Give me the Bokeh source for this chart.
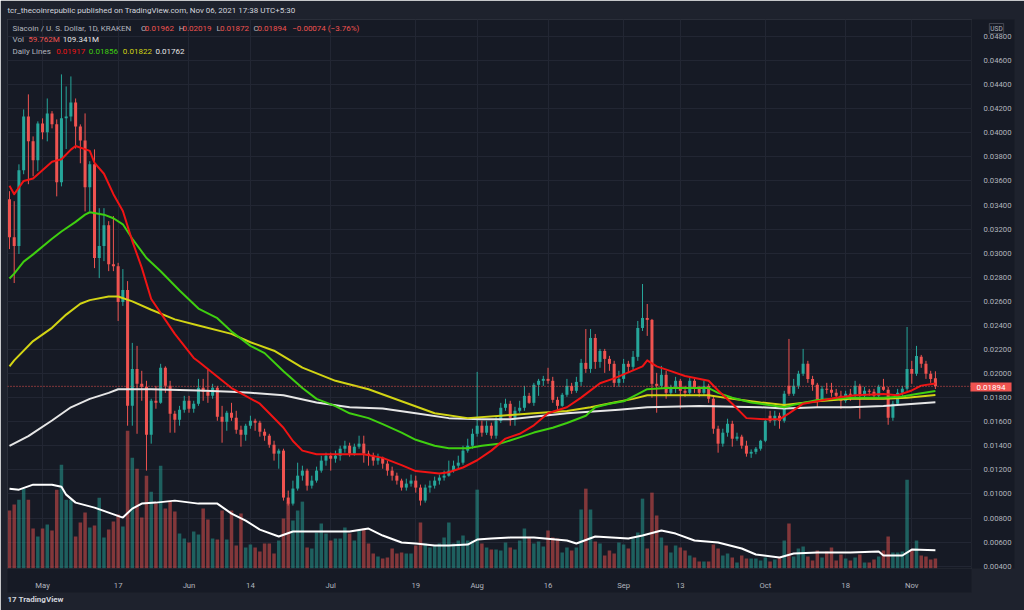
import numpy as np
from bokeh.plotting import figure
from bokeh.models import (Range1d, FixedTicker, Span, Label, ColumnDataSource,
                          PrintfTickFormatter)
from bokeh.embed import file_html
from bokeh.resources import INLINE

# ---------------- data (Siacoin / USD, 1D, 2021-04-24 .. 2021-11-06) ----------------
day = list(range(197))
open_ = [0.03448,0.03133,0.03059,0.03689,0.04136,0.03929,0.03772,0.04078,0.04004,0.04161,
 0.04070,0.03589,0.04120,0.04136,0.04252,0.04053,0.03937,0.03548,0.03738,0.02959,
 0.03059,0.03233,0.02909,0.02892,0.02594,0.02694,0.01732,0.02039,0.01915,0.01890,
 0.01492,0.01774,0.01757,0.02048,0.01898,0.01666,0.01617,0.01700,0.01774,0.01708,
 0.01749,0.01882,0.01849,0.01815,0.01882,0.01641,0.01600,0.01675,0.01633,0.01534,
 0.01492,0.01567,0.01608,0.01592,0.01517,0.01484,0.01409,0.01335,0.01360,0.00970,
 0.00920,0.01045,0.01152,0.01194,0.01069,0.01111,0.01194,0.01277,0.01318,0.01293,
 0.01318,0.01376,0.01401,0.01335,0.01393,0.01418,0.01335,0.01318,0.01277,0.01301,
 0.01252,0.01194,0.01152,0.01111,0.01053,0.01086,0.01111,0.01053,0.00945,0.01053,
 0.01069,0.01111,0.01136,0.01152,0.01194,0.01235,0.01260,0.01360,0.01401,0.01500,
 0.01567,0.01509,0.01567,0.01484,0.01608,0.01716,0.01749,0.01633,0.01691,0.01716,
 0.01815,0.01757,0.01907,0.01940,0.01956,0.01940,0.01782,0.01732,0.01824,0.01898,
 0.01857,0.01931,0.02089,0.02039,0.02296,0.02097,0.02188,0.02122,0.02081,0.01923,
 0.01956,0.02081,0.02056,0.02139,0.02379,0.02462,0.02446,0.01915,0.01898,0.01990,
 0.01840,0.01890,0.01940,0.01857,0.01840,0.01940,0.01873,0.01840,0.01898,0.01791,
 0.01542,0.01418,0.01509,0.01583,0.01459,0.01476,0.01401,0.01335,0.01350,0.01376,
 0.01442,0.01650,0.01608,0.01650,0.01608,0.01898,0.01832,0.01898,0.01998,0.02081,
 0.01956,0.01907,0.01782,0.01873,0.01865,0.01840,0.01815,0.01774,0.01832,0.01824,
 0.01898,0.01815,0.01857,0.01849,0.01815,0.01890,0.01865,0.01633,0.01749,0.01840,
 0.01873,0.02039,0.01998,0.02139,0.02081,0.01998,0.01962]
high = [0.03515,0.03432,0.03738,0.04194,0.04319,0.03970,0.04095,0.04120,0.04285,0.04180,
 0.04111,0.04485,0.04385,0.04468,0.04285,0.04070,0.04161,0.03764,0.03862,0.03374,
 0.03374,0.03266,0.03308,0.02920,0.02868,0.02768,0.02255,0.02230,0.02023,0.01940,
 0.01791,0.01898,0.02081,0.02060,0.01940,0.01691,0.01732,0.01815,0.01815,0.01774,
 0.01956,0.01956,0.02039,0.01915,0.01898,0.01732,0.01691,0.01757,0.01691,0.01567,
 0.01583,0.01650,0.01625,0.01608,0.01542,0.01500,0.01442,0.01376,0.01376,0.01028,
 0.01111,0.01260,0.01235,0.01210,0.01152,0.01227,0.01318,0.01343,0.01343,0.01360,
 0.01401,0.01442,0.01426,0.01418,0.01484,0.01484,0.01360,0.01343,0.01335,0.01310,
 0.01277,0.01227,0.01177,0.01127,0.01127,0.01161,0.01152,0.01078,0.01078,0.01111,
 0.01144,0.01161,0.01194,0.01277,0.01277,0.01318,0.01401,0.01459,0.01542,0.02014,
 0.01608,0.01608,0.01592,0.01641,0.01757,0.01791,0.01774,0.01724,0.01774,0.01898,
 0.01840,0.01923,0.01956,0.01981,0.02048,0.01973,0.01807,0.01840,0.01956,0.01923,
 0.01973,0.02122,0.02370,0.02370,0.02329,0.02205,0.02205,0.02147,0.02106,0.02023,
 0.02122,0.02106,0.02188,0.02437,0.02744,0.02578,0.02454,0.02006,0.02064,0.02023,
 0.01907,0.01973,0.01956,0.01898,0.01965,0.01956,0.01898,0.01940,0.01915,0.01815,
 0.01567,0.01542,0.01625,0.01608,0.01509,0.01492,0.01442,0.01370,0.01390,0.01450,
 0.01620,0.01691,0.01691,0.01675,0.01857,0.02288,0.01956,0.02023,0.02205,0.02106,
 0.01981,0.01923,0.01898,0.01923,0.01923,0.01873,0.01857,0.01857,0.01873,0.01940,
 0.01915,0.01890,0.01873,0.01873,0.01907,0.01956,0.01890,0.01774,0.01873,0.01898,
 0.02387,0.02106,0.02230,0.02155,0.02106,0.02023,0.02019]
low = [0.03034,0.02752,0.02993,0.03656,0.03573,0.03639,0.03681,0.03946,0.03929,0.04037,
 0.03472,0.03555,0.03865,0.04095,0.03869,0.03747,0.03347,0.03347,0.02876,0.02793,
 0.02934,0.02851,0.02851,0.02437,0.02562,0.01567,0.01567,0.01500,0.01774,0.01194,
 0.01418,0.01708,0.01749,0.01840,0.01509,0.01509,0.01567,0.01675,0.01675,0.01675,
 0.01732,0.01774,0.01757,0.01791,0.01608,0.01426,0.01525,0.01608,0.01500,0.01393,
 0.01442,0.01542,0.01525,0.01476,0.01442,0.01384,0.01277,0.01210,0.00945,0.00904,
 0.00904,0.01028,0.01111,0.01028,0.01045,0.01094,0.01177,0.01235,0.01194,0.01260,
 0.01277,0.01343,0.01310,0.01318,0.01376,0.01260,0.01235,0.01235,0.01243,0.01210,
 0.01152,0.01111,0.01078,0.01028,0.01028,0.01061,0.01011,0.00904,0.00928,0.01011,
 0.01045,0.01078,0.01111,0.01144,0.01177,0.01210,0.01243,0.01343,0.01376,0.01476,
 0.01476,0.01490,0.01459,0.01459,0.01590,0.01691,0.01567,0.01567,0.01675,0.01691,
 0.01749,0.01732,0.01815,0.01898,0.01915,0.01757,0.01691,0.01724,0.01807,0.01832,
 0.01840,0.01898,0.02006,0.02006,0.02039,0.02048,0.02006,0.02023,0.01890,0.01890,
 0.01923,0.02006,0.02023,0.02106,0.02354,0.02313,0.01799,0.01675,0.01873,0.01791,
 0.01815,0.01840,0.01708,0.01807,0.01824,0.01840,0.01807,0.01815,0.01757,0.01500,
 0.01343,0.01393,0.01476,0.01393,0.01442,0.01376,0.01310,0.01300,0.01330,0.01360,
 0.01430,0.01592,0.01567,0.01542,0.01592,0.01815,0.01815,0.01873,0.01981,0.01923,
 0.01857,0.01716,0.01774,0.01832,0.01807,0.01791,0.01708,0.01757,0.01774,0.01791,
 0.01625,0.01791,0.01815,0.01791,0.01791,0.01857,0.01575,0.01608,0.01732,0.01791,
 0.01857,0.01915,0.01981,0.02048,0.01956,0.01923,0.01872]
close = [0.03133,0.03059,0.03689,0.04136,0.03929,0.03772,0.04078,0.04004,0.04161,0.04070,
 0.03589,0.04120,0.04136,0.04252,0.04053,0.03937,0.03548,0.03738,0.02959,0.03059,
 0.03233,0.02909,0.02892,0.02594,0.02694,0.01732,0.02039,0.01915,0.01890,0.01492,
 0.01774,0.01757,0.02048,0.01898,0.01666,0.01617,0.01700,0.01774,0.01708,0.01749,
 0.01882,0.01849,0.01815,0.01882,0.01641,0.01600,0.01675,0.01633,0.01534,0.01492,
 0.01567,0.01608,0.01592,0.01517,0.01484,0.01409,0.01335,0.01360,0.00970,0.00920,
 0.01045,0.01152,0.01194,0.01069,0.01111,0.01194,0.01277,0.01318,0.01293,0.01318,
 0.01376,0.01401,0.01335,0.01393,0.01418,0.01335,0.01318,0.01277,0.01301,0.01252,
 0.01194,0.01152,0.01111,0.01053,0.01086,0.01111,0.01053,0.00945,0.01053,0.01069,
 0.01111,0.01136,0.01152,0.01194,0.01235,0.01260,0.01360,0.01401,0.01500,0.01567,
 0.01509,0.01567,0.01484,0.01608,0.01716,0.01749,0.01633,0.01691,0.01716,0.01815,
 0.01757,0.01907,0.01940,0.01956,0.01940,0.01782,0.01732,0.01824,0.01898,0.01857,
 0.01931,0.02089,0.02039,0.02296,0.02097,0.02188,0.02122,0.02081,0.01923,0.01956,
 0.02081,0.02056,0.02139,0.02379,0.02462,0.02446,0.01915,0.01898,0.01990,0.01840,
 0.01890,0.01940,0.01857,0.01840,0.01940,0.01873,0.01840,0.01898,0.01791,0.01542,
 0.01418,0.01509,0.01583,0.01459,0.01476,0.01401,0.01335,0.01350,0.01376,0.01442,
 0.01608,0.01608,0.01650,0.01608,0.01832,0.01832,0.01898,0.01998,0.02081,0.01956,
 0.01907,0.01782,0.01873,0.01865,0.01840,0.01815,0.01774,0.01832,0.01824,0.01898,
 0.01815,0.01857,0.01849,0.01815,0.01890,0.01865,0.01633,0.01749,0.01840,0.01873,
 0.02039,0.01998,0.02147,0.02081,0.01998,0.01956,0.01894]
volume_m = [348,384,414,480,414,240,192,240,264,228,474,624,414,414,192,276,336,246,258,426,
 186,234,282,324,252,828,666,600,306,558,462,390,618,360,402,342,210,180,156,222,
 204,360,294,180,174,348,174,348,138,330,126,144,126,102,150,150,90,168,300,396,
 288,348,402,126,120,216,270,210,168,180,180,246,210,168,228,240,150,90,72,60,
 66,120,90,96,90,90,138,276,150,126,138,150,186,276,150,168,198,168,168,474,
 150,126,114,114,108,156,126,114,168,240,186,150,162,132,228,186,180,96,126,108,
 126,354,480,354,162,150,78,108,90,156,144,120,180,216,420,120,456,318,186,138,
 96,138,126,108,78,66,42,42,42,144,120,78,90,66,36,78,60,60,60,48,
 66,42,54,66,168,270,72,120,132,72,48,108,66,102,126,48,84,60,48,66,
 84,36,36,54,72,108,192,96,96,102,534,108,168,78,72,54,59.762]

# "Daily Lines" moving averages (day index, price)
ma_red_day = [0,1,3,5,9,11,13,14,17,18,20,22,24,26,28,30,35,39,40,47,53,55,58,60,62,65,69,75,79,83,
              86,91,93,96,99,102,105,108,111,114,118,121,125,128,131,134,135,137,140,143,148,150,
              153,156,160,163,165,168,171,175,179,185,188,191,193,196]
ma_red = [0.0356,0.0349,0.0360,0.0362,0.0376,0.0378,0.0386,0.0389,0.0385,0.0375,0.0366,0.0349,0.0335,
          0.0310,0.0288,0.0262,0.0233,0.0213,0.0210,0.0188,0.0175,0.0167,0.0155,0.0144,0.0136,0.0133,
          0.0133,0.0133,0.0130,0.0124,0.0119,0.0117,0.0118,0.0122,0.0128,0.0136,0.0146,0.0150,0.0157,
          0.0167,0.0172,0.0180,0.0192,0.0196,0.0201,0.0206,0.0211,0.0206,0.0202,0.0198,0.0194,0.0186,
          0.0175,0.0163,0.0162,0.0162,0.0167,0.0175,0.0177,0.0180,0.0182,0.0183,0.0182,0.0186,0.0190,
          0.01917]
ma_green_day = [0,1,3,5,9,11,14,16,17,20,22,24,26,29,32,36,40,44,47,51,54,58,62,65,69,72,76,79,83,86,
                90,93,97,100,104,108,111,115,118,122,124,127,130,133,135,139,144,148,150,153,157,159,
                164,166,171,178,185,189,192,196]
ma_green = [0.0279,0.0283,0.0293,0.0299,0.0312,0.0318,0.0326,0.0332,0.0334,0.0332,0.0329,0.0324,0.0312,
            0.0296,0.0285,0.0269,0.0254,0.0246,0.0235,0.0223,0.0217,0.0202,0.0188,0.0179,0.0173,0.0167,
            0.0163,0.0158,0.0151,0.0145,0.0140,0.0138,0.0138,0.0140,0.0142,0.0147,0.0151,0.0155,0.0159,
            0.0165,0.0172,0.0175,0.0177,0.0183,0.0187,0.0188,0.0188,0.0188,0.0184,0.0180,0.0176,0.0175,
            0.0172,0.0174,0.0178,0.0180,0.0180,0.0181,0.0183,0.01856]
ma_yellow_day = [0,1,5,9,12,15,17,21,23,26,30,35,40,47,51,56,62,69,76,83,90,97,104,111,118,123,128,132,
                 135,143,148,153,159,164,171,178,185,190,196]
ma_yellow = [0.0206,0.0211,0.0227,0.0238,0.0249,0.0258,0.0261,0.0264,0.0264,0.0260,0.0253,0.0245,0.0240,
             0.0233,0.0226,0.0219,0.0205,0.0194,0.0187,0.0177,0.0167,0.0163,0.0165,0.0167,0.0169,0.0172,
             0.0176,0.0179,0.0182,0.0182,0.0182,0.0179,0.0176,0.0174,0.0177,0.0179,0.0179,0.0180,0.01822]
ma_white_day = [0,4,9,13,17,21,23,30,40,47,51,58,65,72,79,86,93,100,106,118,129,135,146,159,164,171,178,185,196]
ma_white = [0.0140,0.0148,0.0161,0.0172,0.0179,0.0184,0.0187,0.0187,0.0186,0.0185,0.0184,0.0182,0.0176,
            0.0172,0.0171,0.0167,0.0163,0.0162,0.0162,0.0167,0.0170,0.0172,0.0173,0.0172,0.0171,0.0172,
            0.0172,0.0173,0.01762]
# volume moving average (millions)
vol_ma_day = [0,2,5,9,11,12,14,18,21,24,26,28,31,35,40,44,47,50,53,57,60,65,72,76,79,83,86,90,93,97,99,
              102,106,111,118,120,124,131,134,138,141,145,150,155,158,163,166,171,178,184,185,189,191,196]
vol_ma = [480,474,504,504,492,444,396,366,336,306,360,390,396,408,390,390,330,288,234,192,222,222,222,
          240,198,156,150,138,138,144,174,180,186,186,168,150,192,180,198,228,210,168,156,120,84,66,90,
          96,96,102,78,78,114,109.341]

tick_days = [7, 23, 38, 51, 68, 86, 99, 114, 130, 142, 160, 177, 191]
tick_labels = ["May", "17", "Jun", "14", "Jul", "19", "Aug", "16", "Sep", "13", "Oct", "18", "Nov"]
price_ticks = [round(0.004 + 0.002 * k, 3) for k in range(23)]
last_price = 0.01894

# ---------------- styling ----------------
UP, DOWN = "#26a69a", "#ef5350"
BG, OUTER, GRID, TXT = "#161a25", "#1e222d", "#222633", "#b2b5be"
FONT = "Roboto"

p = figure(width=1024, height=610, output_backend="svg", toolbar_location=None,
           x_range=Range1d(-0.42, 203.64), y_range=Range1d(0.00381, 0.04941),
           min_border_left=7, min_border_right=53, min_border_top=18, min_border_bottom=42,
           background_fill_color=BG, border_fill_color=OUTER, y_axis_location="right")
p.extra_y_ranges = {"vol": Range1d(0, 3300)}
p.outline_line_color = "#2a2e39"

up = [c >= o for o, c in zip(open_, close)]
cols = [UP if u else DOWN for u in up]
src = ColumnDataSource(dict(day=day, o=open_, h=high, l=low, c=close,
                            top=[max(a, b) for a, b in zip(open_, close)],
                            bot=[min(a, b) for a, b in zip(open_, close)],
                            vol=volume_m, col=cols))

# volume
p.vbar(x="day", top="vol", bottom=0, width=0.74, fill_color="col", fill_alpha=0.5,
       line_color=None, source=src, y_range_name="vol")
p.line(vol_ma_day, vol_ma, line_color="#ffffff", line_width=2, y_range_name="vol")

# last price dotted line
p.add_layout(Span(location=last_price, dimension="width", line_color=DOWN,
                  line_dash="1 2", line_width=1))

# candles
p.segment(x0="day", y0="h", x1="day", y1="l", line_color="col", line_width=1, source=src)
p.vbar(x="day", top="top", bottom="bot", width=0.64, fill_color="col", line_color=None, source=src)

# moving averages
for d, v, c in [(ma_white_day, ma_white, "#e6e6e6"), (ma_yellow_day, ma_yellow, "#d2d414"),
                (ma_green_day, ma_green, "#3fcf10"), (ma_red_day, ma_red, "#f01414")]:
    p.line(d, v, line_color=c, line_width=2, line_join="round")

# axes
p.xaxis.ticker = FixedTicker(ticks=tick_days)
p.xaxis.major_label_overrides = {d: t for d, t in zip(tick_days, tick_labels)}
p.yaxis.ticker = FixedTicker(ticks=price_ticks)
p.yaxis.formatter = PrintfTickFormatter(format="%.5f")
for ax in (p.xaxis[0], p.yaxis[0]):
    ax.axis_line_color = None
    ax.major_tick_line_color = None
    ax.minor_tick_line_color = None
    ax.major_label_text_color = TXT
    ax.major_label_text_font = FONT
    ax.major_label_text_font_size = "7.7px"
    try:
        ax.background_fill_color = BG
    except Exception:
        pass
p.xaxis.major_label_standoff = 6
p.yaxis.major_label_standoff = 6
p.xgrid.ticker = FixedTicker(ticks=tick_days)
p.ygrid.ticker = FixedTicker(ticks=price_ticks)
p.grid.grid_line_color = GRID


def lab(x, y, text, color, size="8px", bold=False, align="left", bg=None, border=None,
        place=None, pad=None):
    kw = dict(text=text, text_color=color, text_font=FONT, text_font_size=size,
              text_align=align, text_baseline="middle",
              text_font_style="bold" if bold else "normal")
    if bg is not None:
        kw["background_fill_color"] = bg
    if border is not None:
        kw["border_line_color"] = border
    try:
        l = Label(x=x, y=y, x_units="canvas", y_units="canvas", **kw,
                  **({} if pad is None else {"padding": pad}))
    except Exception:
        l = Label(x=x, y=y, x_units="canvas", y_units="canvas", **kw)
    if place is None:
        p.add_layout(l)
    else:
        p.add_layout(l, place)
    return l


# texts outside the chart pane (side panels, so that they are not clipped)
lab(7, 10, "tcr_thecoinrepublic published on TradingView.com, Nov 06, 2021 17:38 UTC+5:30", "#d1d4dc",
    place="above")
lab(996, 28, "USD", TXT, size="6.5px", align="center", bg=BG, border="#434651", place="above", pad=1)
lab(990.5, 386.5, "0.01894", "#ffffff", size="8px", align="center", bg=DOWN, place="below", pad=(6, 2))
lab(7, 598.5, "17 TradingView", "#d1d4dc", size="8px", bold=True, place="below")

# legend texts inside the chart pane
lab(12, 28, "Siacoin / U. S. Dollar, 1D, KRAKEN", TXT)
for x, t, c in [(140.5, "O", TXT), (144.3, "0.01962", DOWN), (178.3, "H", TXT), (182, "0.02019", DOWN),
                (216, "L", TXT), (219.5, "0.01872", DOWN), (253, "C", TXT), (257, "0.01894", DOWN),
                (291.7, "\u22120.00074 (\u22123.76%)", DOWN)]:
    lab(x, 28, t, c)
lab(12, 39, "Vol", TXT)
lab(27.7, 39, "59.762M", DOWN)
lab(62.3, 39, "109.341M", "#e6e6e6")
lab(12, 51, "Daily Lines", TXT)
lab(55.7, 51, "0.01917", "#f01414")
lab(88.3, 51, "0.01856", "#3fcf10")
lab(122.3, 51, "0.01822", "#d2d414")
lab(155, 51, "0.01762", "#e6e6e6")

open("out.html", "w").write(file_html(p, INLINE))
